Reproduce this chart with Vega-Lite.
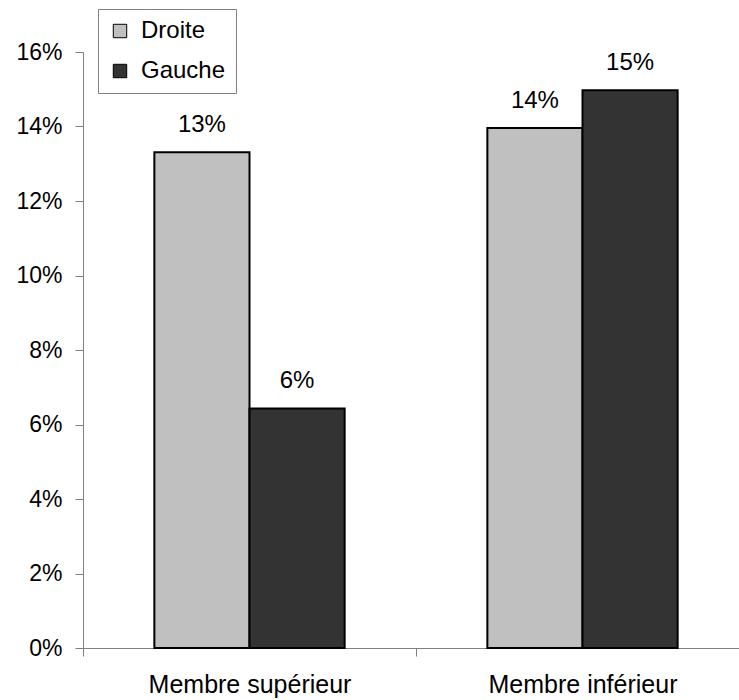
{
  "$schema": "https://vega.github.io/schema/vega-lite/v6.json",
  "autosize": "none",
  "width": 666,
  "height": 596,
  "padding": {"left": 83, "top": 52, "right": 0, "bottom": 52},
  "background": "white",
  "config": {
    "font": "Liberation Sans",
    "view": {"stroke": null},
    "axis": {"grid": false, "domainColor": "#808080", "tickColor": "#808080", "labelColor": "black", "labelFont": "Liberation Sans", "labelFontSize": 23, "tickSize": 8, "domainWidth": 1, "tickWidth": 1, "labelLimit": 0}
  },
  "data": {
    "values": [
      {"membre": "Membre supérieur", "cote": "Droite", "value": 0.1331},
      {"membre": "Membre supérieur", "cote": "Gauche", "value": 0.0643},
      {"membre": "Membre inférieur", "cote": "Droite", "value": 0.1396},
      {"membre": "Membre inférieur", "cote": "Gauche", "value": 0.1497}
    ]
  },
  "encoding": {
    "x": {
      "field": "membre", "type": "nominal", "sort": ["Membre supérieur", "Membre inférieur"],
      "scale": {"paddingInner": 0, "paddingOuter": 0},
      "axis": {"title": null, "labelAngle": 0, "tickBand": "extent", "labelBaseline": "alphabetic", "labelPadding": 36, "labelFontSize": 25}
    },
    "xOffset": {
      "field": "cote", "type": "nominal", "sort": ["Droite", "Gauche"],
      "scale": {"paddingInner": 0, "paddingOuter": 0.75}
    },
    "y": {
      "field": "value", "type": "quantitative",
      "scale": {"domain": [0, 0.16], "nice": false},
      "axis": {"title": null, "values": [0, 0.02, 0.04, 0.06, 0.08, 0.1, 0.12, 0.14, 0.16], "format": ".0%", "labelPadding": 13}
    }
  },
  "layer": [
    {
      "mark": {"type": "bar", "stroke": "black", "strokeWidth": 2},
      "encoding": {
        "color": {
          "field": "cote", "type": "nominal", "sort": ["Droite", "Gauche"],
          "scale": {"domain": ["Droite", "Gauche"], "range": ["#c0c0c0", "#333333"]},
          "legend": {
            "title": null, "orient": "none", "legendX": 15, "legendY": -43,
            "direction": "vertical",
            "fillColor": "white", "strokeColor": "#808080", "padding": 10,
            "symbolType": "square", "symbolSize": 180, "symbolStrokeColor": "black", "symbolStrokeWidth": 1,
            "labelFontSize": 24, "labelFont": "Liberation Sans", "labelColor": "black", "labelOffset": 9,
            "rowPadding": 16
          }
        }
      }
    },
    {
      "mark": {"type": "text", "baseline": "alphabetic", "dy": -20, "fontSize": 24, "font": "Liberation Sans", "color": "black"},
      "encoding": {
        "text": {"field": "value", "type": "quantitative", "format": ".0%"}
      }
    }
  ]
}
